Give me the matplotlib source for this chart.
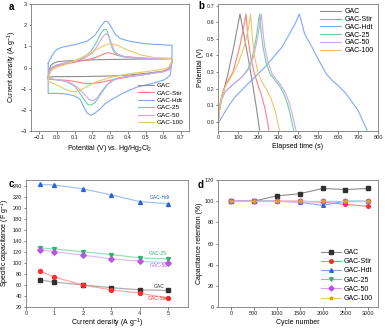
import matplotlib
matplotlib.use("Agg")
import matplotlib.pyplot as plt

plt.rcParams['font.family'] = ['Liberation Sans', 'DejaVu Sans']
plt.rcParams['mathtext.fontset'] = 'custom'
plt.rcParams['mathtext.rm'] = 'Liberation Sans'

names = ["GAC", "GAC-Stir", "GAC-Hdt", "GAC-25", "GAC-50", "GAC-100"]
light = ["#8c8c8c", "#ff8080", "#7fa9f2", "#6fd1a0", "#d4a3f0", "#ecc767"]
dark = ["#303030", "#ff2a2a", "#2a64d6", "#2fb36e", "#b657e0", "#e0a400"]
markers = ["s", "o", "^", "v", "D", "*"]

# ---- (a) cyclic voltammetry loops: potential (V), current density (A/g)
cv_gac_v = [-0.05, -0.045, -0.035, -0.02, 0.0, 0.05, 0.1, 0.2, 0.3, 0.4, 0.5, 0.6, 0.65,
            0.65, 0.645, 0.635, 0.6, 0.5, 0.4, 0.3, 0.2, 0.1, 0.0, -0.03, -0.05]
cv_gac_i = [-0.45, -0.1, 0.1, 0.2, 0.27, 0.31, 0.33, 0.36, 0.38, 0.39, 0.4, 0.41, 0.42,
            0.3, 0.05, -0.08, -0.17, -0.28, -0.36, -0.4, -0.42, -0.43, -0.43, -0.44, -0.45]

cv_stir_v = [-0.05, -0.045, -0.03, 0.0, 0.05, 0.1, 0.15, 0.2, 0.24, 0.27, 0.29, 0.31, 0.34, 0.4, 0.5, 0.6, 0.65,
             0.65, 0.645, 0.63, 0.6, 0.5, 0.4, 0.3, 0.25, 0.2, 0.15, 0.1, 0.05, 0.0, -0.05]
cv_stir_i = [-0.55, -0.3, -0.05, 0.08, 0.17, 0.25, 0.33, 0.42, 0.55, 0.66, 0.7, 0.66, 0.58, 0.5, 0.44, 0.41, 0.42,
             0.42, 0.2, -0.05, -0.18, -0.33, -0.45, -0.6, -0.7, -0.76, -0.74, -0.66, -0.6, -0.58, -0.55]

cv_hdt_v = [-0.05, -0.045, -0.035, -0.02, 0.0, 0.03, 0.09, 0.17, 0.215, 0.245, 0.27, 0.285, 0.3, 0.33, 0.36, 0.41, 0.5, 0.6, 0.65,
            0.65, 0.648, 0.64, 0.62, 0.6, 0.54, 0.45, 0.375, 0.3, 0.27, 0.245, 0.215, 0.19, 0.17, 0.15, 0.13, 0.1, 0.06, 0.0, -0.05, -0.05]
cv_hdt_i = [0.2, 0.3, 0.45, 0.68, 0.86, 0.96, 1.06, 1.24, 1.53, 1.92, 2.18, 2.17, 2.0, 1.55, 1.36, 1.24, 1.12, 1.07, 1.05,
            1.05, 0.3, -0.35, -0.5, -0.6, -0.75, -0.93, -1.2, -1.55, -1.72, -1.95, -2.15, -2.26, -2.15, -1.85, -1.5, -1.35, -1.26, -1.22, -1.22, 0.2]

cv_25_v = [-0.05, -0.045, -0.03, 0.0, 0.05, 0.1, 0.15, 0.19, 0.22, 0.245, 0.265, 0.28, 0.29, 0.305, 0.32, 0.34, 0.375, 0.45, 0.55, 0.65,
           0.65, 0.645, 0.63, 0.6, 0.5, 0.4, 0.35, 0.31, 0.285, 0.26, 0.24, 0.215, 0.19, 0.175, 0.155, 0.13, 0.1, 0.05, 0.0, -0.05]
cv_25_i = [-0.5, -0.2, 0.0, 0.12, 0.22, 0.32, 0.48, 0.75, 1.15, 1.58, 1.8, 1.78, 1.55, 1.05, 0.75, 0.58, 0.5, 0.44, 0.42, 0.43,
           0.43, 0.15, -0.12, -0.2, -0.32, -0.42, -0.48, -0.6, -0.8, -1.1, -1.35, -1.65, -1.78, -1.75, -1.55, -1.22, -0.88, -0.65, -0.58, -0.52]

cv_50_v = [-0.05, -0.045, -0.03, 0.0, 0.05, 0.1, 0.15, 0.2, 0.23, 0.255, 0.275, 0.29, 0.305, 0.32, 0.34, 0.375, 0.45, 0.55, 0.65,
           0.65, 0.645, 0.63, 0.6, 0.5, 0.4, 0.35, 0.32, 0.28, 0.25, 0.225, 0.2, 0.18, 0.15, 0.11, 0.07, 0.03, 0.0, -0.05]
cv_50_i = [-0.5, -0.2, 0.0, 0.12, 0.22, 0.3, 0.42, 0.68, 1.05, 1.42, 1.6, 1.52, 1.2, 0.85, 0.65, 0.52, 0.45, 0.42, 0.43,
           0.43, 0.1, -0.1, -0.2, -0.32, -0.42, -0.5, -0.6, -0.83, -1.14, -1.45, -1.58, -1.5, -1.22, -0.9, -0.7, -0.62, -0.58, -0.52]

cv_100_v = [-0.05, -0.045, -0.03, 0.0, 0.05, 0.13, 0.2, 0.26, 0.3, 0.34, 0.39, 0.47, 0.55, 0.65,
            0.65, 0.645, 0.63, 0.6, 0.5, 0.43, 0.32, 0.22, 0.17, 0.12, 0.085, 0.055, 0.0, -0.03, -0.05]
cv_100_i = [-0.6, -0.35, -0.12, 0.02, 0.15, 0.43, 0.73, 1.02, 1.13, 1.06, 0.85, 0.6, 0.47, 0.42,
            0.42, 0.25, 0.0, -0.08, -0.2, -0.27, -0.43, -0.67, -0.9, -1.11, -1.15, -1.06, -0.83, -0.72, -0.65]

# ---- (b) galvanostatic charge/discharge: time (s), potential (V)
gcd_gac_t = [0, 5, 20, 50, 80, 110, 130, 150, 170, 190, 208]
gcd_gac_v = [-0.03, 0.05, 0.15, 0.29, 0.46, 0.65, 0.52, 0.39, 0.25, 0.1, -0.05]

gcd_stir_t = [0, 5, 15, 30, 50, 75, 108, 125, 140, 150, 165, 180, 200, 215, 235, 255]
gcd_stir_v = [-0.03, 0.07, 0.14, 0.2, 0.25, 0.3, 0.45, 0.55, 0.65, 0.5, 0.38, 0.3, 0.22, 0.17, 0.08, -0.05]

gcd_hdt_t = [0, 5, 20, 50, 85, 150, 235, 320, 385, 407, 433, 470, 500, 541, 570, 600, 640, 670, 700, 745]
gcd_hdt_v = [-0.03, 0.0, 0.03, 0.09, 0.15, 0.23, 0.33, 0.45, 0.59, 0.65, 0.53, 0.45, 0.38, 0.29, 0.25, 0.22, 0.17, 0.12, 0.07, -0.05]

gcd_25_t = [0, 5, 15, 35, 60, 90, 120, 150, 170, 190, 208, 215, 225, 240, 260, 285, 305, 325, 345, 362, 378]
gcd_25_v = [-0.03, 0.07, 0.13, 0.18, 0.21, 0.24, 0.27, 0.32, 0.38, 0.5, 0.65, 0.55, 0.45, 0.36, 0.29, 0.25, 0.22, 0.18, 0.12, 0.04, -0.05]

gcd_50_t = [0, 5, 15, 35, 60, 90, 120, 155, 180, 200, 217, 224, 234, 250, 270, 295, 315, 335, 355, 372, 390]
gcd_50_v = [-0.03, 0.07, 0.13, 0.18, 0.21, 0.24, 0.27, 0.32, 0.4, 0.52, 0.65, 0.55, 0.45, 0.36, 0.29, 0.25, 0.22, 0.18, 0.12, 0.04, -0.05]

gcd_100_t = [0, 8, 20, 40, 70, 100, 130, 150, 163, 172, 185, 200, 220, 245, 265, 285, 307]
gcd_100_v = [-0.03, 0.08, 0.16, 0.22, 0.28, 0.35, 0.45, 0.55, 0.65, 0.5, 0.38, 0.3, 0.24, 0.19, 0.14, 0.07, -0.05]

# ---- (c) specific capacitance vs current density
cd_current = [0.5, 1, 2, 3, 4, 5]
cap_gac = [69, 65, 60, 55, 51, 50]
cap_stir = [85, 74, 60, 51, 45, 36]
cap_hdt = [242, 241, 234, 223, 211, 207]
cap_25 = [127, 125, 120, 115, 109, 107]
cap_50 = [124, 120, 114, 107, 103, 100]

# ---- (d) capacitance retention over cycling
cycles = [0, 500, 1000, 1500, 2000, 2500, 3000]
ret_gac = [100, 100, 105, 107, 112, 111, 112]
ret_stir = [100, 100, 100, 100, 99, 97, 95]
ret_hdt = [100, 100, 100, 99, 96, 100, 100]
ret_25 = [100, 100, 100, 100, 100, 100, 100]
ret_50 = [100, 100, 100, 100, 100, 100, 100]
ret_100 = [100, 100, 100, 100, 100, 100, 100]

fig = plt.figure(figsize=(3.85, 3.30), dpi=100)

def W(v):
    return v / 385.0

def H(v):
    return v / 330.0

ax_a = fig.add_axes([W(31), 1 - H(131), W(158), H(127)])
ax_b = fig.add_axes([W(218), 1 - H(131), W(160), H(127)])
ax_c = fig.add_axes([W(26), 1 - H(307), W(162), H(127)])
ax_d = fig.add_axes([W(218), 1 - H(307), W(160), H(127)])

fs_tick = 4.0
fs_lab = 5.0
for ax in (ax_a, ax_b, ax_c, ax_d):
    for s in ax.spines.values():
        s.set_color("#7a7a7a")
        s.set_linewidth(0.6)
    ax.tick_params(direction="out", length=1.8, width=0.5, color="#555555",
                   labelsize=fs_tick, pad=1.0, labelcolor="#222222")

lw = 0.8
# (a)
cv_v = [cv_gac_v, cv_stir_v, cv_hdt_v, cv_25_v, cv_50_v, cv_100_v]
cv_i = [cv_gac_i, cv_stir_i, cv_hdt_i, cv_25_i, cv_50_i, cv_100_i]
for k in range(6):
    ax_a.plot(cv_v[k], cv_i[k], color=light[k], lw=lw, label=names[k])
ax_a.set_xlim(-0.147, 0.745)
ax_a.set_ylim(-3, 3)
ax_a.set_xticks([-0.1, 0.0, 0.1, 0.2, 0.3, 0.4, 0.5, 0.6, 0.7])
ax_a.set_xticklabels(["\u22120.1", "0.0", "0.1", "0.2", "0.3", "0.4", "0.5", "0.6", "0.7"])
ax_a.set_yticks([-3, -2, -1, 0, 1, 2, 3])
ax_a.set_yticklabels(["\u22123", "\u22122", "\u22121", "0", "1", "2", "3"])
ax_a.set_xlabel("Potential (V) vs. Hg/Hg$_2$Cl$_2$", fontsize=fs_lab, labelpad=2.5)
ax_a.set_ylabel("Current density (A g$^{-1}$)", fontsize=fs_lab, labelpad=1.5)
ax_a.legend(loc="lower right", fontsize=4.6, frameon=False, handlelength=2.4,
            labelspacing=0.3, handletextpad=0.4, borderaxespad=0.5)

# (b)
gt = [gcd_gac_t, gcd_stir_t, gcd_hdt_t, gcd_25_t, gcd_50_t, gcd_100_t]
gv = [gcd_gac_v, gcd_stir_v, gcd_hdt_v, gcd_25_v, gcd_50_v, gcd_100_v]
for k in range(6):
    ax_b.plot(gt[k], gv[k], color=light[k], lw=lw, label=names[k])
ax_b.set_xlim(0, 800)
ax_b.set_ylim(-0.055, 0.71)
ax_b.set_xticks(range(0, 801, 100))
ax_b.set_yticks([0.0, 0.1, 0.2, 0.3, 0.4, 0.5, 0.6, 0.7])
ax_b.set_xlabel("Elapsed time (s)", fontsize=fs_lab, labelpad=2.5)
ax_b.set_ylabel("Potential (V)", fontsize=fs_lab, labelpad=1.5)
ax_b.legend(loc="upper right", fontsize=5.0, frameon=False, handlelength=3.0,
            labelspacing=0.12, handletextpad=0.5, borderaxespad=0.2)

# (c)
caps = [cap_gac, cap_stir, cap_hdt, cap_25, cap_50]
for k in range(5):
    ax_c.plot(cd_current, caps[k], color=light[k], lw=0.9, alpha=0.7)
    ax_c.plot(cd_current, caps[k], ls="none", marker=markers[k], ms=2.8,
              color=dark[k], mec=dark[k])
ax_c.set_xlim(0, 5.7)
ax_c.set_ylim(20, 250)
ax_c.set_xticks([0, 1, 2, 3, 4, 5])
ax_c.set_yticks(range(20, 241, 20))
ax_c.set_xlabel("Current density (A g$^{-1}$)", fontsize=fs_lab, labelpad=0.5)
ax_c.set_ylabel("Specific capacitance (F g$^{-1}$)", fontsize=fs_lab, labelpad=0.3)
ax_c.text(4.71, 218, "GAC-Hdt", color=dark[2], fontsize=3.6, ha="center", va="center")
ax_c.text(4.65, 116, "GAC-25", color=dark[3], fontsize=3.6, ha="center", va="center")
ax_c.text(4.69, 95, "GAC-50", color=dark[4], fontsize=3.6, ha="center", va="center")
ax_c.text(4.69, 57, "GAC", color=dark[0], fontsize=3.6, ha="center", va="center")
ax_c.text(4.65, 35, "GAC-Stir", color=dark[1], fontsize=3.6, ha="center", va="center")

# (d)
rets = [ret_gac, ret_stir, ret_hdt, ret_25, ret_50, ret_100]
for k in range(6):
    ax_d.plot(cycles, rets[k], color=light[k], lw=0.8, marker=markers[k], ms=2.6,
              mfc=dark[k], mec=dark[k], label=names[k])
ax_d.set_xlim(-280, 3210)
ax_d.set_ylim(0, 120)
ax_d.set_xticks(cycles)
ax_d.set_yticks(range(0, 121, 20))
ax_d.set_xlabel("Cycle number", fontsize=fs_lab, labelpad=2.5)
ax_d.set_ylabel("Capacitance retention (%)", fontsize=fs_lab, labelpad=1.5)
ax_d.legend(loc="lower right", fontsize=5.0, frameon=False, handlelength=2.8,
            labelspacing=0.32, handletextpad=0.5, borderaxespad=0.3)

for lbl, x, y in (("a", 11, 7), ("b", 201, 6), ("c", 11, 184), ("d", 201, 185)):
    fig.text(W(x), 1 - H(y), lbl, fontsize=7, fontweight="bold", ha="center", va="center")

fig.savefig("out.png", dpi=100)
